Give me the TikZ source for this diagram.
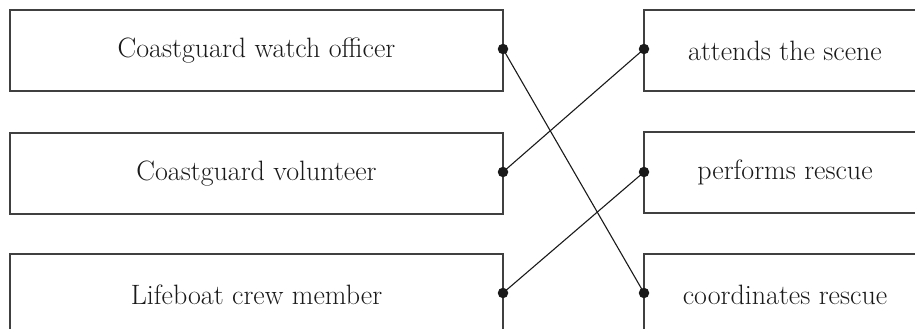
\documentclass[tikz,border=0pt]{standalone}
\definecolor{boxgray}{HTML}{404040}
\definecolor{inkc}{HTML}{1A1A1A}
\begin{document}
\begin{tikzpicture}[x=1pt,y=-1pt,
  box/.style={draw=boxgray, line width=1.3pt, minimum width=493pt, minimum height=81pt,
    inner sep=0pt, outer sep=0pt, text=inkc, font=\fontsize{28}{32}\selectfont},
  rbox/.style={box, minimum width=282pt},
  dot/.style={circle, fill=inkc, inner sep=0pt, minimum size=10.5pt},
  link/.style={draw=inkc, line width=1.1pt}]
\useasboundingbox (0,0) rectangle (915,329);
\clip (0,0) rectangle (915,329);
\node[box] (L1) at (256.5,50.5) {Coastguard watch officer};
\node[box] (L2) at (256.5,173.5) {Coastguard volunteer};
\node[box] (L3) at (256.5,294.5) {Lifeboat crew member};
\node[rbox] (R1) at (785,50.5) {attends the scene};
\node[rbox] (R2) at (785,172.5) {performs rescue};
\node[rbox] (R3) at (785,294.5) {coordinates rescue};
\coordinate (cL1) at (L1.east |- 0,49);
\coordinate (cL2) at (L2.east |- 0,172);
\coordinate (cL3) at (L3.east |- 0,293);
\coordinate (cR1) at (R1.west |- 0,49);
\coordinate (cR2) at (R2.west |- 0,172);
\coordinate (cR3) at (R3.west |- 0,293);
\draw[link] (cL1) -- (cR3);
\draw[link] (cL2) -- (cR1);
\draw[link] (cL3) -- (cR2);
\foreach \p in {cL1,cL2,cL3,cR1,cR2,cR3} \node[dot] (dot-\p) at (\p) {};
\end{tikzpicture}
\end{document}
